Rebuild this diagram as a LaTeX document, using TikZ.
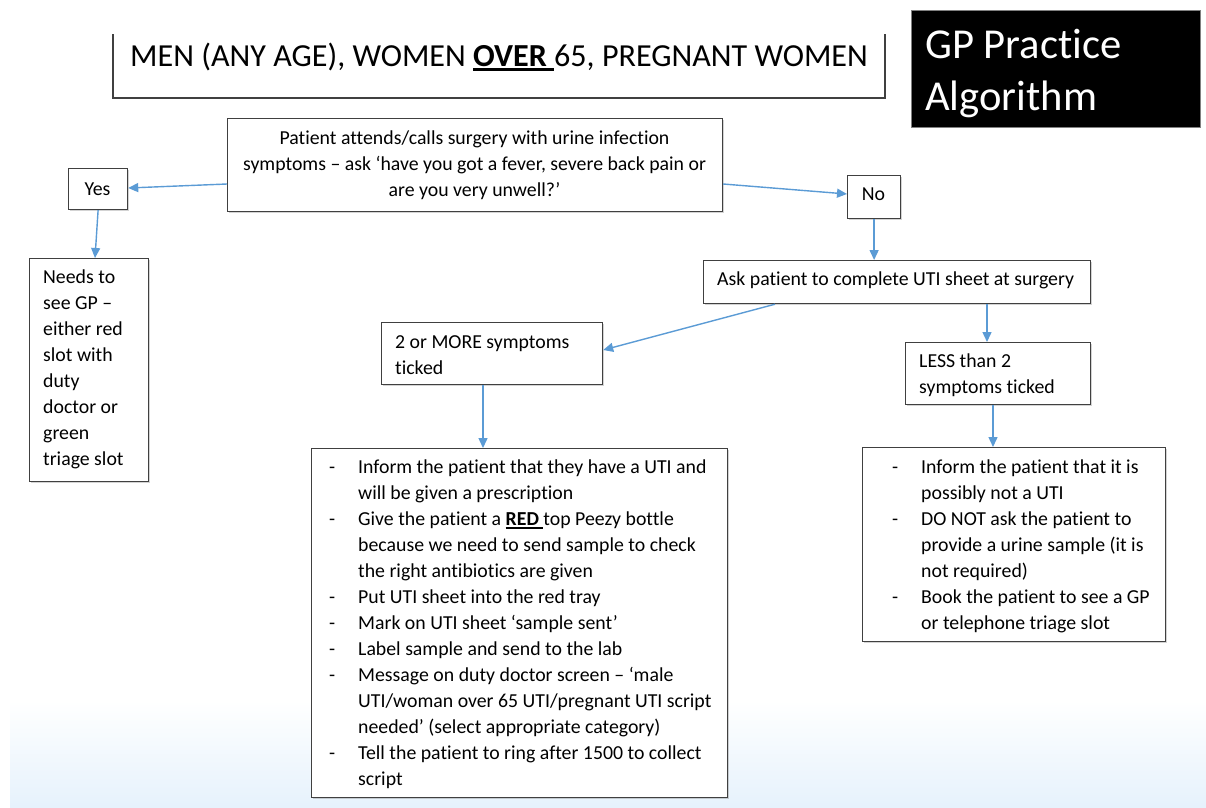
\documentclass[tikz,border=0pt]{standalone}
\usepackage{fontspec}
\setmainfont{Carlito}[Ligatures={NoCommon}]
\usetikzlibrary{arrows.meta,shadows}
\definecolor{arrowblue}{HTML}{5B9BD5}
\definecolor{boxline}{HTML}{404040}
\definecolor{bgblue}{HTML}{E6F2FC}
\newcommand\myul[3]{\setbox0\hbox{#1}\rlap{\rule[-#2]{\wd0}{#3}}\box0\relax}
\newcommand\dsh{\makebox[29pt][l]{-}}
\newcommand\ind{\hspace*{29pt}}
\begin{document}
\begin{tikzpicture}[x=1pt,y=-1pt,
  box/.style={draw=boxline, line width=1.2pt, fill=white, inner sep=0pt, anchor=north west,
    drop shadow={shadow xshift=1.5pt,shadow yshift=-1.5pt,opacity=0.35,fill=gray}},
  txt/.style={inner sep=0pt, anchor=north west, align=left, font=\fontsize{19.8}{26}\selectfont},
  ctxt/.style={inner sep=0pt, anchor=north, align=center, font=\fontsize{19.8}{26}\selectfont},
  btxt/.style={inner sep=0pt, font=\fontsize{19.8}{26}\selectfont},
  arr/.style={draw=arrowblue, line width=1.4pt, -{Triangle[length=10pt,width=9pt]}}]
\useasboundingbox (0,0) rectangle (1206,807);
% background band
\shade[top color=white, bottom color=bgblue] (10,700) rectangle (1206,807);

% title
\draw[boxline, line width=1.2pt] (113,34) -- (113,98) -- (885,98) -- (885,34);
\node[inner sep=0pt, anchor=base, font=\fontsize{32.1}{36}\selectfont] (title) at (499,66)
  {MEN (ANY AGE), WOMEN \myul{\textbf{OVER}\ }{5pt}{2.8pt}65, PREGNANT WOMEN};

% GP practice box
\node[fill=black, draw=gray, line width=0.6pt, minimum width=289pt, minimum height=117pt, anchor=north west, inner sep=0pt] (gpbox) at (911,10) {};
\node[inner sep=0pt, anchor=base west, text=white, font=\fontsize{42.6}{52}\selectfont] (gp1) at (925,58) {GP Practice};
\node[inner sep=0pt, anchor=base west, text=white, font=\fontsize{42.6}{52}\selectfont] (gp2) at (925,110) {Algorithm};

% boxes
\node[box, minimum width=495pt, minimum height=93pt] (pat) at (227,118) {};
\node[ctxt] (pattxt) at (474.5,126.5) {\strut Patient attends/calls surgery with urine infection\\ symptoms – ask ‘have you got a fever, severe back pain or\\ are you very unwell?’};

\node[box, minimum width=59pt, minimum height=41pt] (yes) at (68,168) {};
\node[btxt, anchor=base] (yestxt) at (97.5,195) {Yes};

\node[box, minimum width=53pt, minimum height=43pt] (no) at (847,175) {};
\node[btxt, anchor=base] (notxt) at (873.5,200.5) {No};

\node[box, minimum width=119pt, minimum height=223pt] (needs) at (29,258) {};
\node[txt] (needstxt) at (43,265.5) {\strut Needs to\\ see GP –\\ either red\\ slot with\\ duty\\ doctor or\\ green\\ triage slot};

\node[box, minimum width=387pt, minimum height=43pt] (ask) at (703,260) {};
\node[btxt, anchor=base west] (asktxt) at (717,285) {Ask patient to complete UTI sheet at surgery};

\node[box, minimum width=221pt, minimum height=62pt] (more) at (381,322) {};
\node[txt] (moretxt) at (395,330.5) {\strut 2 or MORE symptoms\\ ticked};

\node[box, minimum width=185pt, minimum height=62pt] (less) at (905,342) {};
\node[txt] (lesstxt) at (919,349.5) {\strut LESS than 2\\ symptoms ticked};

\node[box, minimum width=416pt, minimum height=349pt] (big) at (311,448) {};
\node[txt] (bigtxt) at (329,455.5) {\strut\dsh Inform the patient that they have a UTI and\\
\ind will be given a prescription\\
\dsh Give the patient a \myul{\textbf{RED}\ }{3pt}{1.7pt}top Peezy bottle\\
\ind because we need to send sample to check\\
\ind the right antibiotics are given\\
\dsh Put UTI sheet into the red tray\\
\dsh Mark on UTI sheet ‘sample sent’\\
\dsh Label sample and send to the lab\\
\dsh Message on duty doctor screen – ‘male\\
\ind UTI/woman over 65 UTI/pregnant UTI script\\
\ind needed’ (select appropriate category)\\
\dsh Tell the patient to ring after 1500 to collect\\
\ind script};

\node[box, minimum width=303pt, minimum height=194pt] (right) at (862,447) {};
\node[txt] (righttxt) at (892,455.5) {\strut\dsh Inform the patient that it is\\
\ind possibly not a UTI\\
\dsh DO NOT ask the patient to\\
\ind provide a urine sample (it is\\
\ind not required)\\
\dsh Book the patient to see a GP\\
\ind or telephone triage slot};

% connectors
\draw[arr] (pat.west |- 0,184) -- (yes.east |- 0,188);
\draw[arr] (pat.east |- 0,184) -- (no.west |- 0,194);
\draw[arr] (yes.south) -- (needs.north -| 95,0);
\draw[arr] (no.south) -- (ask.north -| no.south);
\draw[arr] (ask.south -| 775,0) -- (more.east |- 0,350);
\draw[arr] (ask.south -| 987,0) -- (less.north -| 987,0);
\draw[arr] (more.south -| 483,0) -- (big.north -| 483,0);
\draw[arr] (less.south -| 993,0) -- (right.north -| 993,0);
\end{tikzpicture}
\end{document}
